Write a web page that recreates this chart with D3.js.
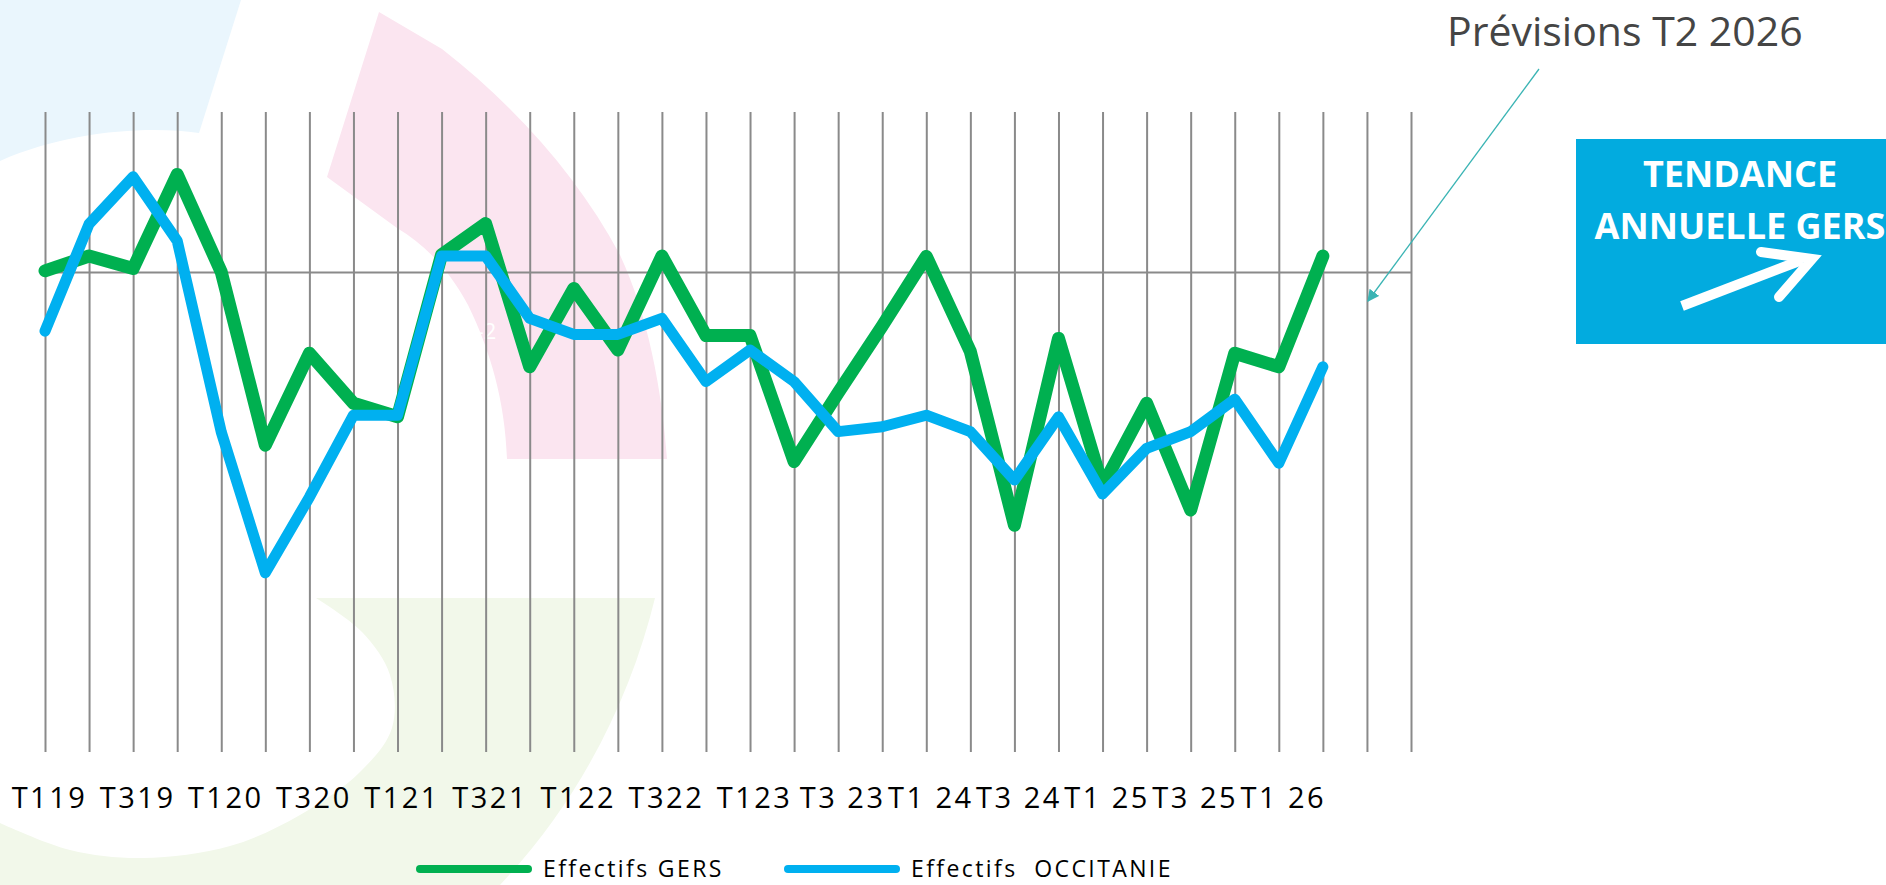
<!DOCTYPE html>
<html>
<head>
<meta charset="utf-8">
<script src="https://cdn.jsdelivr.net/npm/d3@7"></script>
<style>
  body { margin: 0; background: #fff; }
  svg { display: block; font-family: "Open Sans", sans-serif; }
</style>
</head>
<body>
<svg id="chart" width="1886" height="885"></svg>
<script>
// quarters on the x axis (T1 2019 -> T4 2026)
const categories = [
  "T1 19", "T2 19", "T3 19", "T4 19", "T1 20", "T2 20", "T3 20", "T4 20",
  "T1 21", "T2 21", "T3 21", "T4 21", "T1 22", "T2 22", "T3 22", "T4 22",
  "T1 23", "T2 23", "T3 23", "T4 23", "T1 24", "T2 24", "T3 24", "T4 24",
  "T1 25", "T2 25", "T3 25", "T4 25", "T1 26", "T2 26", "T3 26", "T4 26"
];
// labels shown every other quarter, as printed
const tickLabels = ["T119", "T319", "T120", "T320", "T121", "T321", "T122", "T322",
  "T123", "T3 23", "T1 24", "T3 24", "T1 25", "T3 25", "T1 26"];

const gers = [0.03, 0.40, 0.09, 2.44, 0.00, -4.33, -2.03, -3.28, -3.62, 0.43,
  1.21, -2.37, -0.41, -1.95, 0.40, -1.59, -1.59, -4.74, -3.02, -1.35,
  0.39, -1.99, -6.33, -1.66, -5.35, -3.28, -5.95, -2.03, -2.37, 0.40];
const occitanie = [-1.48, 1.20, 2.38, 0.78, -4.00, -7.52, -5.63, -3.58, -3.58, 0.40,
  0.40, -1.16, -1.56, -1.56, -1.16, -2.74, -1.95, -2.74, -3.99, -3.87,
  -3.58, -3.99, -5.20, -3.62, -5.55, -4.41, -3.99, -3.18, -4.78, -2.37];

const seriesNames = ["Effectifs GERS", "Effectifs  OCCITANIE"];
const colors = ["#00b050", "#00b0f0"];

let svg = d3.select("#chart");

// decorative background shapes
let bg = svg.append("g");
bg.append("path")
  .attr("d", "M0,0 L241,0 L199,133 C150,126 70,130 0,161 Z")
  .attr("fill", "#eaf6fd");
bg.append("path")
  .attr("d", "M379,12 L442,49 C520,110 580,180 620,255 C648,315 662,390 667,459 L507,459 C505,400 490,350 468,305 C448,268 425,245 397,228 L327,177 Z")
  .attr("fill", "#fbe5f0");

// green ring piece: outer edge straight path, inner edge smoothed
let innerEdge = d3.line().curve(d3.curveCatmullRom)([
  [0, 823], [70, 850], [143, 858], [230, 846], [300, 815], [360, 772], [392, 728], [390, 675], [362, 632], [316, 598]
]);
bg.append("path")
  .attr("d", "M316,598 L655,598 C630,700 580,800 500,885 L0,885 L" + innerEdge.slice(1) + " Z")
  .attr("fill", "#f2f8ea");
bg.append("text")
  .attr("x", 464).attr("y", 339)
  .attr("fill", "#fff")
  .style("font-size", "22px")
  .text("1-2");

let x = d3.scalePoint().domain(categories).range([45, 1411]);
let y = d3.scaleLinear().domain([-12, 4]).range([752, 112]);

// vertical grid + labels
let labelOf = {};
tickLabels.forEach((t, i) => labelOf[categories[i * 2]] = t);

let xAxis = svg.append("g")
  .attr("transform", "translate(0,752)")
  .call(d3.axisBottom(x).tickSizeInner(-640).tickSizeOuter(0).tickPadding(35)
    .tickFormat(d => labelOf[d] || ""));
xAxis.select(".domain").remove();
xAxis.selectAll(".tick line").attr("stroke", "#8a8a8a").attr("stroke-width", 2);
xAxis.selectAll(".tick text")
  .attr("dx", 4)
  .attr("fill", "#000")
  .style("font-family", "'Open Sans', sans-serif")
  .style("font-size", "29px")
  .style("letter-spacing", "2.5px");

// single horizontal gridline
let yAxis = svg.append("g")
  .attr("transform", "translate(45,0)")
  .call(d3.axisLeft(y).tickValues([0]).tickSize(-1366).tickFormat(""));
yAxis.select(".domain").remove();
yAxis.selectAll(".tick line").attr("stroke", "#8a8a8a").attr("stroke-width", 2);

let line = d3.line()
  .x((d, i) => x(categories[i]))
  .y(d => y(d));

svg.append("path")
  .datum(gers)
  .attr("d", line)
  .attr("fill", "none")
  .attr("stroke", colors[0])
  .attr("stroke-width", 13)
  .attr("stroke-linejoin", "round")
  .attr("stroke-linecap", "round");

svg.append("path")
  .datum(occitanie)
  .attr("d", line)
  .attr("fill", "none")
  .attr("stroke", colors[1])
  .attr("stroke-width", 11)
  .attr("stroke-linejoin", "round")
  .attr("stroke-linecap", "round");

// legend
let legendX = [420, 788];
let legend = svg.append("g").selectAll("g")
  .data(seriesNames)
  .enter().append("g")
  .attr("transform", (d, i) => `translate(${legendX[i]},869)`);
legend.append("line")
  .attr("x1", 0).attr("x2", 108)
  .attr("stroke", (d, i) => colors[i])
  .attr("stroke-width", 8)
  .attr("stroke-linecap", "round");
legend.append("text")
  .attr("x", 123).attr("y", 8)
  .style("font-size", "23px")
  .style("letter-spacing", "2.4px")
  .style("white-space", "pre")
  .attr("fill", "#000")
  .text(d => d);

// forecast annotation
svg.append("defs").append("marker")
  .attr("id", "tip")
  .attr("viewBox", "0 0 10 10")
  .attr("refX", 9).attr("refY", 5)
  .attr("markerWidth", 12).attr("markerHeight", 12)
  .attr("markerUnits", "userSpaceOnUse")
  .attr("orient", "auto")
  .append("path").attr("d", "M0,0 L10,5 L0,10 Z").attr("fill", "#3ab4b4");

svg.append("line")
  .attr("x1", 1539).attr("y1", 69)
  .attr("x2", 1368).attr("y2", 301)
  .attr("stroke", "#3ab4b4")
  .attr("stroke-width", 1.3)
  .attr("marker-end", "url(#tip)");

svg.append("text")
  .attr("x", 1447).attr("y", 46)
  .attr("fill", "#454545")
  .style("font-size", "41px")
  .text("Prévisions T2 2026");

// trend box
let box = svg.append("g");
box.append("rect")
  .attr("x", 1576).attr("y", 139)
  .attr("width", 310).attr("height", 205)
  .attr("fill", "#02abdf");
box.selectAll("text")
  .data(["TENDANCE", "ANNUELLE GERS"])
  .enter().append("text")
  .attr("x", 1740)
  .attr("y", (d, i) => 187 + i * 52)
  .attr("text-anchor", "middle")
  .attr("fill", "#fff")
  .style("font-size", "36px")
  .style("font-weight", "bold")
  .text(d => d);
box.append("line")
  .attr("x1", 1682).attr("y1", 306)
  .attr("x2", 1802).attr("y2", 260)
  .attr("stroke", "#fff").attr("stroke-width", 10);
box.append("path")
  .attr("d", "M1761,252 L1812,259 L1779,297")
  .attr("fill", "none")
  .attr("stroke", "#fff").attr("stroke-width", 10)
  .attr("stroke-linecap", "round")
  .attr("stroke-linejoin", "miter");
</script>
</body>
</html>
